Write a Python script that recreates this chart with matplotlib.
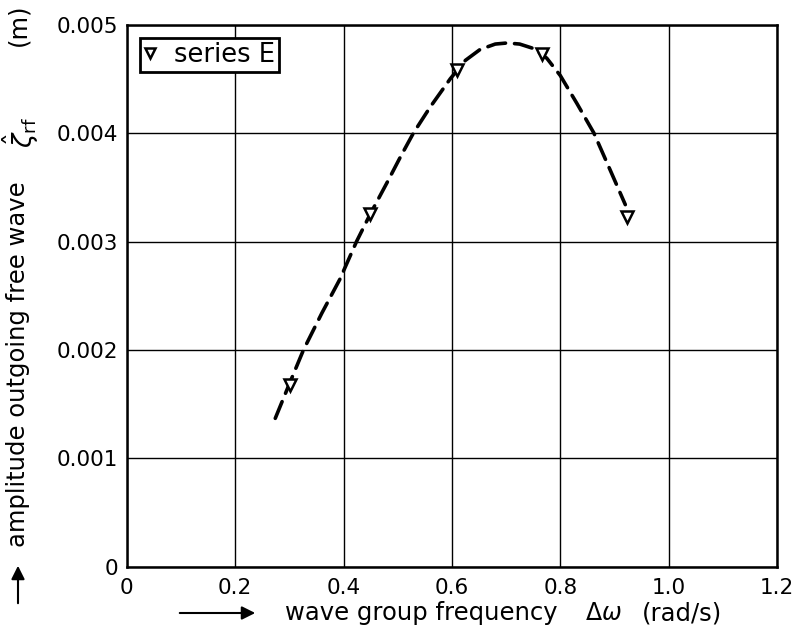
import numpy as np
import matplotlib.pyplot as plt
from matplotlib.patches import FancyArrowPatch

# measured points, series E
freq = [0.301, 0.449, 0.610, 0.766, 0.923]
ampl = [0.00168, 0.00325, 0.00458, 0.00473, 0.00323]

# dashed curve
curve_x = [0.274, 0.301, 0.326, 0.360, 0.393, 0.424, 0.449, 0.480, 0.505, 0.529, 0.560,
           0.597, 0.625, 0.652, 0.680, 0.702, 0.725, 0.750, 0.775, 0.800, 0.831, 0.862,
           0.892, 0.920]
curve_y = [0.00137, 0.00170, 0.00200, 0.00234, 0.00265, 0.00300, 0.00325, 0.00354,
           0.00378, 0.00400, 0.00424, 0.00450, 0.00467, 0.00477, 0.00482, 0.00483,
           0.00482, 0.00478, 0.00469, 0.00453, 0.00427, 0.00400, 0.00366, 0.00334]

xticks = [0, 0.2, 0.4, 0.6, 0.8, 1.0, 1.2]
xticklabels = ['0', '0.2', '0.4', '0.6', '0.8', '1.0', '1.2']
yticks = [0, 0.001, 0.002, 0.003, 0.004, 0.005]
yticklabels = ['0', '0.001', '0.002', '0.003', '0.004', '0.005']

plt.rcParams['font.family'] = 'DejaVu Sans'
plt.rcParams['mathtext.fontset'] = 'dejavusans'

W, H = 794, 629
fig = plt.figure(figsize=(7.94, 6.29), dpi=100)
ax = fig.add_axes([0.1597, 0.0986, 0.8189, 0.8624])

ax.plot(curve_x, curve_y, color='black', lw=2.6, dashes=(5, 2.5), dash_capstyle='round')
ax.plot(freq, ampl, linestyle='none', marker='v', markersize=9, markerfacecolor='white',
        markeredgecolor='black', markeredgewidth=1.8, label='series E')

ax.set_xlim(0, 1.2)
ax.set_ylim(0, 0.005)
ax.set_xticks(xticks, xticklabels)
ax.set_yticks(yticks, yticklabels)
ax.tick_params(axis='both', length=0, labelsize=15.5)
ax.tick_params(axis='x', pad=8)
ax.tick_params(axis='y', pad=6)
ax.grid(True, color='black', lw=1.0)
ax.set_axisbelow(True)
for s in ax.spines.values():
    s.set_linewidth(1.8)

leg = ax.legend(loc='upper left', bbox_to_anchor=(0.012, 0.985), fancybox=False,
                edgecolor='black', framealpha=1, fontsize=18.5, handlelength=0.5,
                handletextpad=0.7, borderpad=0.15, borderaxespad=0.2, markerscale=0.8)
leg.get_frame().set_linewidth(2.0)

# x label pieces and arrow
fig.text(285 / W, 1 - 613 / H, 'wave group frequency', fontsize=17.5, ha='left', va='center')
fig.text(585 / W, 1 - 613 / H, r'$\Delta\omega$', fontsize=17, ha='left', va='center')
fig.text(642 / W, 1 - 613 / H, '(rad/s)', fontsize=17.5, ha='left', va='center')
fig.patches.append(FancyArrowPatch(
    (177 / W, 1 - 613 / H), (258 / W, 1 - 613 / H), transform=fig.transFigure,
    arrowstyle='-|>', mutation_scale=20, color='black', lw=1.5))

# y label pieces and arrow
fig.text(18 / W, 1 - 547 / H, 'amplitude outgoing free wave', fontsize=17.5,
         ha='center', va='bottom', rotation=90)
fig.text(21 / W, 1 - 132 / H, r'$\hat{\zeta}_{\mathrm{rf}}$', fontsize=19,
         ha='center', va='center', rotation=90)
fig.text(18 / W, 1 - 25 / H, '(m)', fontsize=17.5, ha='center', va='center', rotation=90)
fig.patches.append(FancyArrowPatch(
    (18 / W, 1 - 606 / H), (18 / W, 1 - 563 / H), transform=fig.transFigure,
    arrowstyle='-|>', mutation_scale=20, color='black', lw=1.5))

fig.savefig('out.png', dpi=100)
